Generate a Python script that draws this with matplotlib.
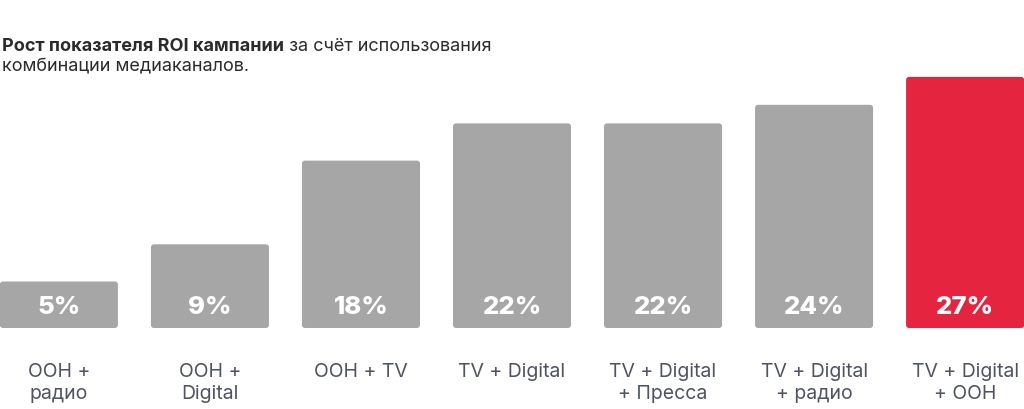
import matplotlib.pyplot as plt
from matplotlib.patches import FancyBboxPatch

# data
categories = ['OOH +\nрадио', 'OOH +\nDigital', 'OOH + TV', 'TV + Digital',
              'TV + Digital\n+ Пресса', 'TV + Digital\n+ радио', 'TV + Digital\n+ OOH']
values = [5, 9, 18, 22, 22, 24, 27]
value_labels = ['5%', '9%', '18%', '22%', '22%', '24%', '27%']
highlight = 6

plt.rcParams['font.family'] = ['Inter', 'DejaVu Sans']

W, H = 1024, 409
fig = plt.figure(figsize=(W / 100, H / 100), dpi=100)
px_per_unit_y = 9.3
ymax = 28
ax = fig.add_axes([0, 81 / H, 1, ymax * px_per_unit_y / H])
ax.set_xlim(-0.39, 6.39)
ax.set_ylim(0, ymax)
ax.set_axis_off()

bar_w = 118 / 151
gray = '#a6a6a6'
red = '#e5243f'
aspect = (1 / px_per_unit_y) / (1 / 151)

for i, v in enumerate(values):
    col = red if i == highlight else gray
    p = FancyBboxPatch((i - bar_w / 2, 0), bar_w, v,
                       boxstyle='round,pad=0,rounding_size=0.02',
                       mutation_aspect=aspect, facecolor=col, edgecolor='none')
    ax.add_patch(p)
    ax.text(i, 21 / px_per_unit_y, value_labels[i], ha='center', va='center',
            color='white', fontsize=18.5, fontweight='heavy')
    ax.text(i, -35 / px_per_unit_y, categories[i], ha='center', va='top',
            color='#4f5462', fontsize=14, linespacing=1.27, clip_on=False)

# title: bold part + regular part
t1 = fig.text(2 / W, 1 - 51 / H, 'Рост показателя ROI кампании', ha='left',
              va='baseline', fontsize=13, fontweight='bold', color='#2b2b2b')
ax.annotate(' за счёт использования', xy=(1, 0), xycoords=t1,
            ha='left', va='bottom', fontsize=13, color='#2b2b2b')
fig.text(2 / W, 1 - 70 / H, 'комбинации медиаканалов.', ha='left',
         va='baseline', fontsize=13, color='#2b2b2b')

plt.savefig('out.png', dpi=100)
plt.close()
